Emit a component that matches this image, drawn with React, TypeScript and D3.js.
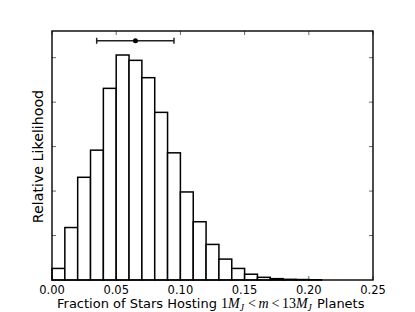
import React from 'react';
import * as d3 from 'd3';

// histogram of the fraction of stars hosting giant planets, bins of 0.01
const binStarts = [0.00, 0.01, 0.02, 0.03, 0.04, 0.05, 0.06, 0.07, 0.08, 0.09, 0.10, 0.11, 0.12, 0.13, 0.14, 0.15, 0.16, 0.17, 0.18, 0.19, 0.20];
const binHeights = [0.26, 1.18, 2.31, 2.92, 4.31, 5.06, 4.94, 4.55, 3.77, 2.86, 1.98, 1.31, 0.80, 0.47, 0.26, 0.13, 0.06, 0.03, 0.015, 0.01, 0.005];
const binWidth = 0.01;

const xTicks = [0.0, 0.05, 0.10, 0.15, 0.20, 0.25];
const yTicks = [1, 2, 3, 4, 5];

// median and 68% interval
const estimate = { lo: 0.0348, mid: 0.065, hi: 0.095 };

const W = 415;
const H = 312;
const margin = { top: 31, right: 42, bottom: 32, left: 52 };

const App: React.FC = () => {
  const innerW = W - margin.left - margin.right;
  const innerH = H - margin.top - margin.bottom;

  const x = d3.scaleLinear().domain([0, 0.25]).range([margin.left, margin.left + innerW]);
  const y = d3.scaleLinear().domain([0, 5.6]).range([margin.top + innerH, margin.top]);

  const x0 = x(0), x1 = x(0.25), y0 = y(0), y1 = margin.top;
  const tickLen = 4;
  const errY = y(5.38);
  const serif = 'Liberation Serif';

  return (
    <svg width={W} height={H} style={{ position: 'absolute', left: 0, top: 0, background: '#fff' }}
      fontFamily="DejaVu Sans">
      {/* bars */}
      {binStarts.map((s, i) => (
        <rect key={i} x={x(s)} y={y(binHeights[i])} width={x(s + binWidth) - x(s)}
          height={y0 - y(binHeights[i])} fill="#fff" stroke="#000" strokeWidth={1.5} />
      ))}

      {/* ticks, inward on all sides */}
      {xTicks.map(t => (
        <g key={'xt' + t} stroke="#000" strokeWidth={0.6}>
          <line x1={x(t)} x2={x(t)} y1={y0} y2={y0 - tickLen} />
          <line x1={x(t)} x2={x(t)} y1={y1} y2={y1 + tickLen} />
        </g>
      ))}
      {yTicks.map(t => (
        <g key={'yt' + t} stroke="#000" strokeWidth={0.6}>
          <line x1={x0} x2={x0 + tickLen} y1={y(t)} y2={y(t)} />
          <line x1={x1} x2={x1 - tickLen} y1={y(t)} y2={y(t)} />
        </g>
      ))}

      {/* frame */}
      <rect x={x0} y={y1} width={x1 - x0} height={y0 - y1} fill="none" stroke="#000" strokeWidth={1.4} />

      {/* error bar */}
      <g stroke="#222" strokeWidth={1.5}>
        <line x1={x(estimate.lo)} x2={x(estimate.hi)} y1={errY} y2={errY} />
        <line x1={x(estimate.lo)} x2={x(estimate.lo)} y1={errY - 3} y2={errY + 3} />
        <line x1={x(estimate.hi)} x2={x(estimate.hi)} y1={errY - 3} y2={errY + 3} />
      </g>
      <circle cx={x(estimate.mid)} cy={errY} r={2.5} fill="#000" />

      {/* tick labels */}
      {xTicks.map(t => (
        <text key={'xl' + t} x={x(t)} y={294} fontSize={11.5} textAnchor="middle">{t.toFixed(2)}</text>
      ))}

      {/* axis labels */}
      <text x={57} y={307.5} fontSize={13}>
        Fraction of Stars Hosting{' '}
        <tspan fontFamily={serif} fontSize={14}>1</tspan>
        <tspan fontFamily={serif} fontStyle="italic" fontSize={14}>M</tspan>
        <tspan fontFamily={serif} fontStyle="italic" fontSize={9.5} dy={3}>J</tspan>
        <tspan fontFamily={serif} fontSize={14} dy={-3} dx={4}>&lt;</tspan>
        <tspan fontFamily={serif} fontStyle="italic" fontSize={14} dx={2.5}>m</tspan>
        <tspan fontFamily={serif} fontSize={14} dx={3}>&lt;</tspan>
        <tspan fontFamily={serif} fontSize={14} dx={2.5}>13</tspan>
        <tspan fontFamily={serif} fontStyle="italic" fontSize={14}>M</tspan>
        <tspan fontFamily={serif} fontStyle="italic" fontSize={9.5} dy={3}>J</tspan>
        <tspan dy={-3} dx={1}> Planets</tspan>
      </text>
      <text transform={`translate(43,156.5) rotate(-90)`} fontSize={14.2} textAnchor="middle">Relative Likelihood</text>
    </svg>
  );
};

export default App;
